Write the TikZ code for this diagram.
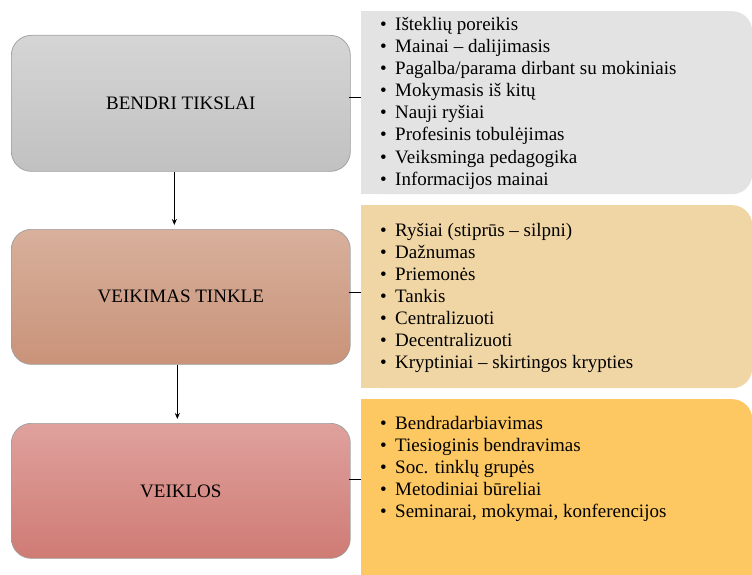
\documentclass[tikz,border=0pt]{standalone}
\usepackage{fontspec}
\setmainfont{Liberation Serif}
\usetikzlibrary{arrows.meta}

\definecolor{grayTop}{RGB}{213,213,213}
\definecolor{grayBot}{RGB}{193,193,193}
\definecolor{brownTop}{RGB}{216,176,156}
\definecolor{brownBot}{RGB}{201,147,121}
\definecolor{roseTop}{RGB}{223,161,157}
\definecolor{roseBot}{RGB}{207,123,116}
\definecolor{panelGray}{RGB}{227,227,227}
\definecolor{panelTan}{RGB}{240,214,165}
\definecolor{panelGold}{RGB}{253,200,98}

\newcommand{\itembullet}{\makebox[15pt][l]{\textbullet}}

\begin{document}
\begin{tikzpicture}[x=1pt,y=-1pt,
  stagebox/.style={rounded corners=20pt, draw=black!38, line width=0.7pt,
    minimum width=339pt, minimum height=136pt, anchor=north west, inner sep=0pt,
    font=\fontsize{19}{22}\selectfont},
  panel/.style={rounded corners=20pt, minimum width=391pt, anchor=north west,
    inner sep=0pt},
  item/.style={anchor=base west, inner sep=0pt, font=\fontsize{19}{22}\selectfont},
  link/.style={line width=1.2pt},
  flow/.style={line width=1.2pt, -{Stealth[length=6pt,width=5pt]}, shorten >=4pt}]

\useasboundingbox (0,0) rectangle (752,575);

% right-hand panels (square left corners, rounded right corners)
\node[panel, fill=panelGray, minimum height=183pt] (p1) at (361,11) {};
\fill[panelGray] (p1.north west) rectangle ([xshift=30pt]p1.south west);
\node[panel, fill=panelTan, minimum height=183pt] (p2) at (361,205) {};
\fill[panelTan] (p2.north west) rectangle ([xshift=30pt]p2.south west);
\node[panel, fill=panelGold, minimum height=200pt] (p3) at (361,399) {};
\fill[panelGold] (p3.north west) rectangle ([xshift=30pt]p3.south west);

% stage boxes
\node[stagebox, top color=grayTop, bottom color=grayBot] (b1) at (11,35) {BENDRI TIKSLAI};
\node[stagebox, top color=brownTop, bottom color=brownBot, minimum height=135pt] (b2) at (11,229) {VEIKIMAS TINKLE};
\node[stagebox, top color=roseTop, bottom color=roseBot, minimum height=135pt] (b3) at (11,423) {VEIKLOS};

% item lists
\foreach \t [count=\i] in {Išteklių poreikis, Mainai – dalijimasis,
    Pagalba/parama dirbant su mokiniais, Mokymasis iš kitų, Nauji ryšiai,
    Profesinis tobulėjimas, Veiksminga pedagogika, Informacijos mainai}
  \node[item] (a\i) at (380,{31+22*(\i-1)}) {\itembullet\t};

\foreach \t [count=\i] in {Ryšiai (stiprūs – silpni), Dažnumas, Priemonės,
    Tankis, Centralizuoti, Decentralizuoti, Kryptiniai – skirtingos krypties}
  \node[item] (n\i) at (380,{236+22*(\i-1)}) {\itembullet\t};

\foreach \t [count=\i] in {Bendradarbiavimas, Tiesioginis bendravimas,
    Soc. tinklų grupės, Metodiniai būreliai, {Seminarai, mokymai, konferencijos}}
  \node[item] (v\i) at (380,{429.5+22*(\i-1)}) {\itembullet\t};

% connectors from each stage to its panel
\coordinate (c1) at ([yshift=6pt]b1.east);
\draw[link] ([xshift=-2pt]c1) -- (c1 -| p1.west);
\coordinate (c2) at ([yshift=4.5pt]b2.east);
\draw[link] ([xshift=-2pt]c2) -- (c2 -| p2.west);
\coordinate (c3) at ([yshift=11.5pt]b3.east);
\draw[link] ([xshift=-2pt]c3) -- (c3 -| p3.west);

% flow between stages
\draw[flow] ([xshift=-6.5pt]b1.south) -- ([xshift=-6.5pt]b2.north);
\draw[flow] ([xshift=-3.5pt]b2.south) -- ([xshift=-3.5pt]b3.north);

\end{tikzpicture}
\end{document}
